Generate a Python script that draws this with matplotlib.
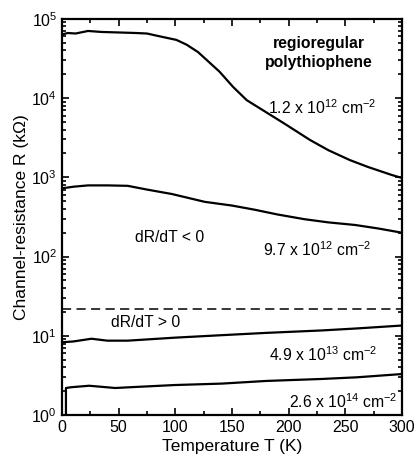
import numpy as np
import matplotlib
matplotlib.use("Agg")
import matplotlib.pyplot as plt
from matplotlib.ticker import MultipleLocator, LogLocator

plt.rcParams['font.family'] = ['Liberation Sans', 'DejaVu Sans']
plt.rcParams['mathtext.default'] = 'regular'

# 1.2 x 10^12 cm^-2
T_1 = [0, 5, 12, 23, 35, 50, 65, 75, 86, 101, 110, 120, 139, 151, 163,
       181, 191, 200, 219, 235, 254, 270, 291, 300]
R_1 = [6.3e4, 6.6e4, 6.5e4, 7.0e4, 6.8e4, 6.7e4, 6.6e4, 6.5e4, 6.0e4, 5.4e4,
       4.7e4, 3.8e4, 2.15e4, 1.38e4, 9.4e3, 6.5e3, 5.3e3, 4.4e3, 2.95e3,
       2.2e3, 1.65e3, 1.35e3, 1.07e3, 0.98e3]

# 9.7 x 10^12 cm^-2
T_2 = [0, 10, 23, 40, 58, 75, 97, 126, 150, 170, 190, 214, 235, 259, 280, 300]
R_2 = [725, 760, 790, 790, 780, 700, 615, 490, 440, 390, 340, 296, 270, 250, 225, 200]

# 4.9 x 10^13 cm^-2
T_3 = [0, 10, 26, 40, 58, 100, 141, 180, 229, 260, 300]
R_3 = [8.3, 8.5, 9.2, 8.7, 8.7, 9.5, 10.2, 10.9, 11.7, 12.4, 13.5]

# 2.6 x 10^14 cm^-2
T_4 = [3.5, 3.5, 8, 24, 47, 60, 100, 141, 180, 229, 260, 300]
R_4 = [1.0, 2.2, 2.25, 2.35, 2.2, 2.25, 2.4, 2.5, 2.7, 2.86, 3.0, 3.3]

R_boundary = 22  # dR/dT sign change

fig = plt.figure(figsize=(4.16, 4.67), dpi=100)
ax = fig.add_axes([0.149, 0.111, 0.817, 0.849])

for T, R in [(T_1, R_1), (T_2, R_2), (T_3, R_3), (T_4, R_4)]:
    ax.plot(T, R, color='black', lw=1.6)
ax.axhline(R_boundary, color='black', lw=1.1, ls=(0, (6, 3.5)))

ax.set_yscale('log')
ax.set_xlim(0, 300)
ax.set_ylim(1, 1e5)

ax.xaxis.set_major_locator(MultipleLocator(50))
ax.xaxis.set_minor_locator(MultipleLocator(25))
ax.yaxis.set_major_locator(LogLocator(base=10, numticks=10))
ax.yaxis.set_minor_locator(LogLocator(base=10, subs=np.arange(2, 10), numticks=10))

ax.tick_params(which='both', direction='in', top=True, right=True, width=1.2,
               labelsize=11.5)
ax.tick_params(which='major', length=5)
ax.tick_params(which='minor', length=3)
for s in ax.spines.values():
    s.set_linewidth(1.6)

ax.set_xlabel('Temperature T (K)', fontsize=12.5, labelpad=3)
ax.set_ylabel('Channel-resistance R (k\u03a9)', fontsize=12.5, labelpad=2)

fs = 11.3
ax.text(0.757, 0.914, 'regioregular\npolythiophene', transform=ax.transAxes,
        ha='center', va='center', fontsize=fs, fontweight='bold', linespacing=1.3)
ax.text(0.767, 0.776, r'1.2 x 10$^{12}$ cm$^{-2}$', transform=ax.transAxes,
        ha='center', va='center', fontsize=fs)
ax.text(0.752, 0.418, r'9.7 x 10$^{12}$ cm$^{-2}$', transform=ax.transAxes,
        ha='center', va='center', fontsize=fs)
ax.text(0.317, 0.449, 'dR/dT < 0', transform=ax.transAxes,
        ha='center', va='center', fontsize=fs)
ax.text(0.247, 0.234, 'dR/dT > 0', transform=ax.transAxes,
        ha='center', va='center', fontsize=fs)
ax.text(0.770, 0.153, r'4.9 x 10$^{13}$ cm$^{-2}$', transform=ax.transAxes,
        ha='center', va='center', fontsize=fs)
ax.text(0.828, 0.034, r'2.6 x 10$^{14}$ cm$^{-2}$', transform=ax.transAxes,
        ha='center', va='center', fontsize=fs)

fig.savefig('out.png', dpi=100)
